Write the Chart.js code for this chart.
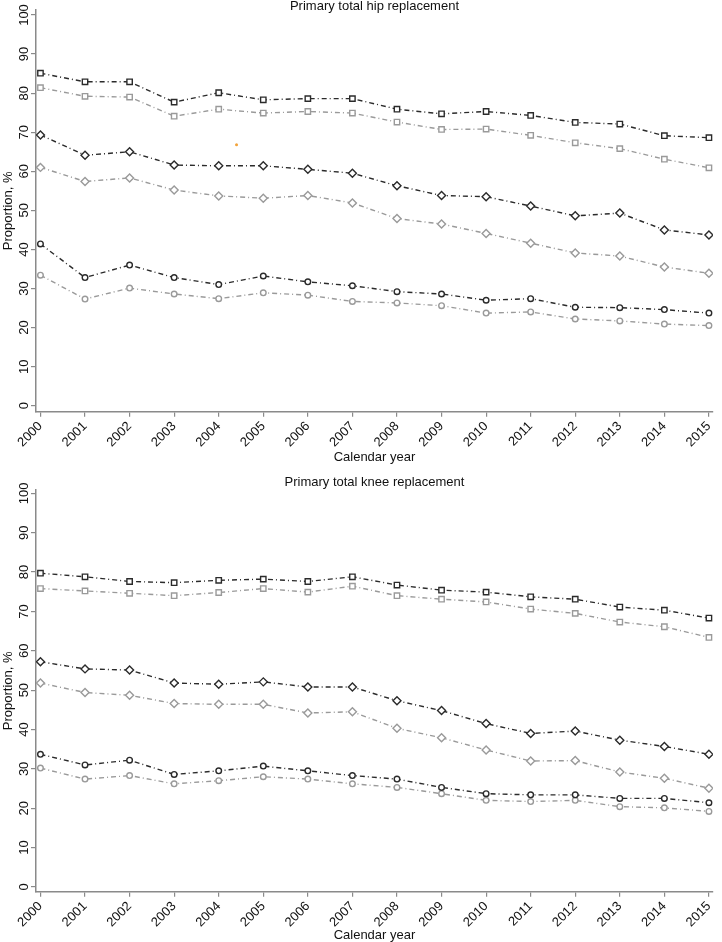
<!DOCTYPE html>
<html lang="en">
  <head>
    <meta charset="UTF-8" />
    <title>Primary total hip and knee replacement</title>
    <script src="https://cdn.jsdelivr.net/npm/chart.js"></script>
    <style>
      body,
      html {
        margin: 0;
        background: #fff;
        font-family: "Liberation Sans", Arial, sans-serif;
      }
      .panel {
        position: absolute;
        left: 0;
        width: 722px;
      }
      #hipPanel {
        top: 0;
        height: 470px;
      }
      #kneePanel {
        top: 470px;
        height: 472px;
      }
    </style>
  </head>
  <body>
    <div class="panel" id="hipPanel"><canvas id="hipChart" width="722" height="470"></canvas></div>
    <div class="panel" id="kneePanel"><canvas id="kneeChart" width="722" height="472"></canvas></div>
    <script>
      const years = [2000, 2001, 2002, 2003, 2004, 2005, 2006, 2007, 2008, 2009, 2010, 2011, 2012, 2013, 2014, 2015];
      const yTicks = [0, 10, 20, 30, 40, 50, 60, 70, 80, 90, 100];

      // hip replacement
      const hipSqDark = [85.1, 82.9, 82.9, 77.7, 80.1, 78.3, 78.6, 78.6, 75.9, 74.7, 75.3, 74.3, 72.5, 72.1, 69.1, 68.6];
      const hipSqLight = [81.4, 79.2, 79.0, 74.1, 75.9, 74.9, 75.3, 74.9, 72.6, 70.7, 70.8, 69.2, 67.3, 65.8, 63.1, 60.9];
      const hipDiaDark = [69.3, 64.1, 65.0, 61.6, 61.4, 61.4, 60.5, 59.5, 56.3, 53.8, 53.5, 51.1, 48.6, 49.3, 45.0, 43.7];
      const hipDiaLight = [61.0, 57.4, 58.3, 55.2, 53.7, 53.1, 53.8, 51.9, 47.9, 46.5, 44.1, 41.6, 39.1, 38.3, 35.5, 33.9];
      const hipCircDark = [41.4, 32.8, 36.0, 32.8, 31.0, 33.2, 31.7, 30.7, 29.2, 28.6, 27.0, 27.4, 25.2, 25.1, 24.6, 23.7];
      const hipCircLight = [33.4, 27.3, 30.1, 28.6, 27.4, 28.9, 28.3, 26.7, 26.3, 25.6, 23.7, 24.0, 22.2, 21.7, 20.9, 20.5];
      // stray orange dot in the hip panel
      const strayX = [2004.4];
      const strayY = [66.8];

      // knee replacement
      const kneeSqDark = [79.7, 78.8, 77.6, 77.3, 77.9, 78.2, 77.6, 78.8, 76.7, 75.4, 74.9, 73.7, 73.1, 71.1, 70.3, 68.3];
      const kneeSqLight = [75.8, 75.2, 74.6, 74.0, 74.8, 75.8, 74.9, 76.4, 74.0, 73.1, 72.4, 70.6, 69.5, 67.3, 66.1, 63.4];
      const kneeDiaDark = [57.2, 55.4, 55.1, 51.8, 51.5, 52.1, 50.8, 50.8, 47.3, 44.8, 41.5, 39.0, 39.6, 37.3, 35.7, 33.7];
      const kneeDiaLight = [51.8, 49.4, 48.7, 46.6, 46.4, 46.4, 44.2, 44.5, 40.3, 37.9, 34.8, 32.0, 32.1, 29.2, 27.6, 25.1];
      const kneeCircDark = [33.7, 31.0, 32.2, 28.6, 29.5, 30.7, 29.5, 28.3, 27.4, 25.3, 23.7, 23.4, 23.4, 22.5, 22.5, 21.4];
      const kneeCircLight = [30.2, 27.4, 28.3, 26.2, 27.0, 28.0, 27.4, 26.2, 25.3, 23.7, 22.0, 21.7, 22.0, 20.4, 20.1, 19.2];

      const FONT = '"Liberation Sans", Arial, sans-serif';
      const DARK = "#2b2b2b";
      const LIGHT = "#9a9a9a";
      const AXIS = "#8a8a8a";

      function series(values, color, style) {
        const radius = style === "circle" ? 2.8 : style === "rect" ? 3.8 : 4;
        return {
          data: years.map((yr, i) => ({ x: yr, y: values[i] })),
          borderColor: color,
          borderWidth: 1.4,
          borderDash: [5, 3, 1, 3],
          pointStyle: style,
          pointRadius: radius,
          pointBorderColor: color,
          pointBackgroundColor: "#fff",
          pointBorderWidth: 1.4,
          fill: false,
          tension: 0,
        };
      }

      // draws title, axis titles and the rotated y labels
      const textPlugin = {
        id: "texts",
        afterDraw(chart, args, opts) {
          const { ctx, chartArea, scales } = chart;
          const midX = (chartArea.left + chartArea.right) / 2;
          ctx.save();
          ctx.fillStyle = "#111";
          ctx.font = "13px " + FONT;
          ctx.textAlign = "center";
          ctx.textBaseline = "alphabetic";
          ctx.fillText(opts.title, midX, opts.titleY);
          ctx.fillText("Calendar year", midX, opts.xTitleY);
          yTicks.forEach((v) => {
            const py = scales.y.getPixelForValue(v);
            ctx.save();
            ctx.translate(31, py);
            ctx.rotate(-Math.PI / 2);
            ctx.textBaseline = "bottom";
            ctx.fillText(String(v), 0, 0);
            ctx.restore();
          });
          ctx.translate(12, (chartArea.top + chartArea.bottom) / 2);
          ctx.rotate(-Math.PI / 2);
          ctx.fillText("Proportion, %", 0, 0);
          ctx.restore();
        },
      };

      function makeChart(id, sets, cfg) {
        return new Chart(document.getElementById(id), {
          type: "line",
          data: { datasets: sets },
          plugins: [textPlugin],
          options: {
            responsive: false,
            animation: false,
            devicePixelRatio: 1,
            layout: { padding: { top: cfg.top, right: 4, left: 0, bottom: 0 } },
            plugins: {
              legend: { display: false },
              tooltip: { enabled: false },
              texts: { title: cfg.title, titleY: cfg.titleY, xTitleY: cfg.xTitleY },
            },
            scales: {
              x: {
                type: "linear",
                min: 1999.9,
                max: 2015.09,
                afterBuildTicks: (s) => {
                  s.ticks = years.map((v) => ({ value: v }));
                },
                afterFit: (s) => {
                  s.height = cfg.xHeight;
                },
                grid: { drawOnChartArea: false, color: AXIS, tickLength: 5, lineWidth: 1.2 },
                border: { color: AXIS, width: 1.5 },
                ticks: {
                  autoSkip: false,
                  minRotation: 45,
                  maxRotation: 45,
                  padding: 2,
                  color: "#111",
                  font: { family: FONT, size: 13 },
                  callback: (v) => String(v),
                },
              },
              y: {
                type: "linear",
                min: cfg.yMin,
                max: cfg.yMax,
                afterBuildTicks: (s) => {
                  s.ticks = yTicks.map((v) => ({ value: v }));
                },
                afterFit: (s) => {
                  s.width = 36;
                },
                grid: { drawOnChartArea: false, color: AXIS, tickLength: 5, lineWidth: 1.2 },
                border: { color: AXIS, width: 1.5 },
                ticks: { display: false },
              },
            },
          },
        });
      }

      makeChart(
        "hipChart",
        [
          series(hipSqDark, DARK, "rect"),
          series(hipSqLight, LIGHT, "rect"),
          series(hipDiaDark, DARK, "rectRot"),
          series(hipDiaLight, LIGHT, "rectRot"),
          series(hipCircDark, DARK, "circle"),
          series(hipCircLight, LIGHT, "circle"),
          {
            data: strayX.map((x, i) => ({ x: x, y: strayY[i] })),
            showLine: false,
            pointRadius: 1.5,
            pointBorderWidth: 0,
            pointBackgroundColor: "#f2a33a",
          },
        ],
        { title: "Primary total hip replacement", top: 10, titleY: 10, xTitleY: 461, xHeight: 58.3, yMin: -1.53, yMax: 101.28 }
      );

      makeChart(
        "kneeChart",
        [
          series(kneeSqDark, DARK, "rect"),
          series(kneeSqLight, LIGHT, "rect"),
          series(kneeDiaDark, DARK, "rectRot"),
          series(kneeDiaLight, LIGHT, "rectRot"),
          series(kneeCircDark, DARK, "circle"),
          series(kneeCircLight, LIGHT, "circle"),
        ],
        { title: "Primary total knee replacement", top: 20, titleY: 16, xTitleY: 469, xHeight: 50.3, yMin: -1.2, yMax: 100.84 }
      );
    </script>
  </body>
</html>
